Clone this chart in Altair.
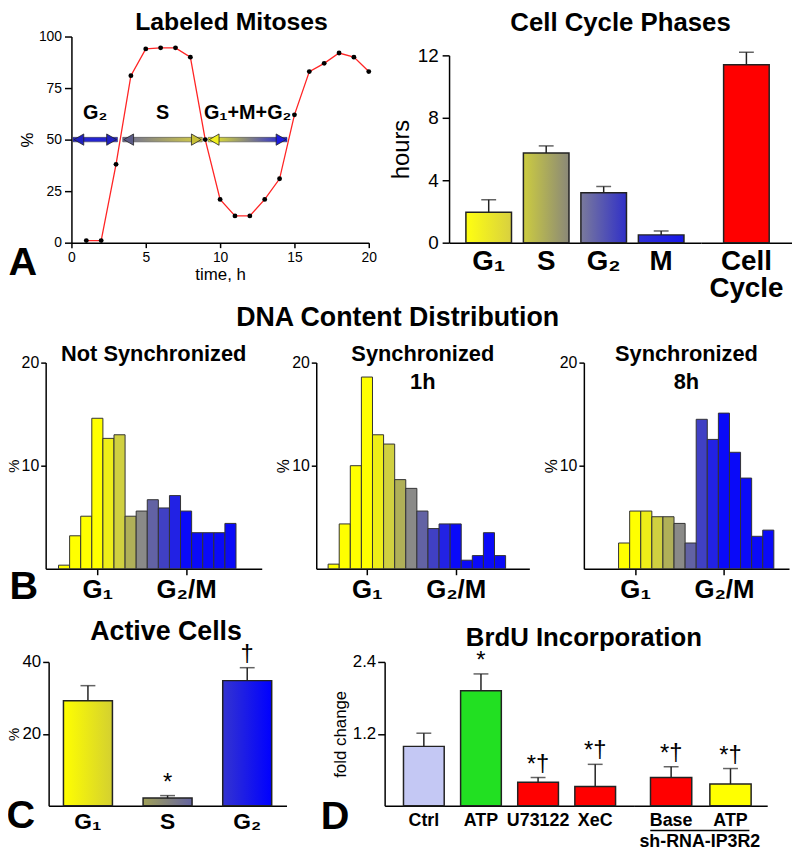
import altair as alt
import pandas as pd

FONT = "Liberation Sans"

# ---------------- data ----------------
# A: labeled mitoses
lm_time = list(range(1, 21))
lm_pct = [1, 1, 38, 81, 94, 94.5, 94.5, 90, 50, 21, 13, 13, 21, 31, 62, 83, 87, 92, 90, 83]

arrow_label = ["G₂", "S", "G₁+M+G₂"]
arrow_from = [0.1, 3.45, 9.2]
arrow_to = [3.1, 8.8, 14.5]
arrow_level = [50, 50, 50]
arrow_label_level = [60, 60, 60]

# A: cell cycle phases
phase_names = ["G₁", "S", "G₂", "M"]
phase_hours = [1.95, 5.75, 3.2, 0.5]
phase_err = [2.75, 6.2, 3.6, 0.75]
cycle_name = ["Cell Cycle"]
cycle_hours = [11.4]
cycle_err = [12.2]

# B: DNA content histograms
dna_bins = list(range(16))
dna_not_sync = [0.35, 3.2, 5.1, 14.6, 12.65, 13.0, 5.1, 5.6, 6.7, 5.9, 7.1, 5.6, 3.5, 3.5, 3.5, 4.4]
dna_sync_1h = [0.45, 4.35, 10.0, 18.6, 13.0, 12.1, 8.65, 7.8, 5.6, 3.9, 4.35, 4.35, 0.83, 1.28, 3.5, 1.28]
dna_bins_8h = list(range(2, 16))
dna_sync_8h = [2.5, 5.6, 5.6, 5.05, 5.05, 4.4, 2.5, 14.5, 12.55, 15.1, 11.3, 8.8, 3.15, 3.75]
dna_tick_bins = [3.5, 11.5]
dna_tick_labels = ["G₁", "G₂/M"]

# C: active cells
active_phase = ["G₁", "S", "G₂"]
active_pct = [29.2, 2.1, 34.8]
active_err = [33.4, 2.8, 38.4]
active_mark = ["", "*", "†"]

# D: BrdU incorporation
brdu_cond = ["Ctrl", "ATP", "U73122", "XeC"]
brdu_fold = [0.99, 1.92, 0.39, 0.32]
brdu_err = [1.21, 2.2, 0.47, 0.69]
brdu_mark = ["", "*", "*†", "*†"]
shrna_cond = ["Base", "ATP"]
shrna_fold = [0.47, 0.36]
shrna_err = [0.65, 0.62]
shrna_mark = ["*†", "*†"]
shrna_group = ["sh-RNA-IP3R2"]

# ---------------- styles ----------------
hist_colors = ["#ffff00"] * 4 + ["#eeee18", "#d0d040", "#b0b058", "#8a8a88",
                                 "#6262a4", "#4040c4", "#2222e4"] + ["#0a0af8"] * 5
arrow_colors = [  # left head, shaft start, shaft end, right head
    ("#2020c0", "#2424d0", "#2424d0", "#2020c0"),
    ("#5c5c88", "#6c6c98", "#d8d040", "#c8c038"),
    ("#f0f020", "#f0f020", "#1c1ce0", "#1c1ce0"),
]
phase_grads = [("#ffff10", "#d8d040"), ("#cccc40", "#8a8878"),
               ("#7a7a9c", "#3030c8"), ("#3030d8", "#1818e8")]
active_grads = [("#ffff00", "#d4d030"), ("#a0a058", "#6464a0"), ("#3434d0", "#0000ff")]
brdu_colors = ["#c4c8f4", "#22e022", "#ff0000", "#ff0000"]
shrna_colors = ["#ff0000", "#ffff00"]
EDGE = "#222222"


def grad(c1, c2):
    return alt.Gradient(gradient="linear",
                        stops=[alt.GradientStop(color=c1, offset=0),
                               alt.GradientStop(color=c2, offset=1)],
                        x1=0, x2=1, y1=0, y2=0)


def letter(ch, x, y):
    return alt.Chart(pd.DataFrame({"t": [ch]})).mark_text(
        font=FONT, fontSize=40, fontWeight="bold", align="center",
        baseline="alphabetic", color="black").encode(
        text="t:N", x=alt.value(x), y=alt.value(y))


# ================= Row A, left: Labeled Mitoses =================
df_lm = pd.DataFrame({"time": lm_time, "pct": lm_pct})
df_arr = pd.DataFrame({"label": arrow_label, "x0": arrow_from, "x1": arrow_to,
                       "y": arrow_level, "ly": arrow_label_level})
xA = alt.Scale(domain=[0, 20], range=[26, 326], nice=False, zero=False)
yA = alt.Scale(domain=[0, 100], nice=False)
xA_enc = alt.X("time:Q", scale=xA, axis=alt.Axis(
    values=[0, 5, 10, 15, 20], title="time, h", labelFontSize=14, titleFontSize=17,
    titleFontWeight="normal", tickSize=5, labelPadding=3, labelFlush=False, titlePadding=2))
yA_enc = alt.Y("pct:Q", scale=yA, axis=alt.Axis(
    values=[0, 25, 50, 75, 100], title="%", offset=-26, labelFontSize=14, titleFontSize=17,
    titleFontWeight="normal", tickSize=7, labelPadding=3, titlePadding=2))

lineA = alt.Chart(df_lm).mark_line(color="#ff2424", strokeWidth=1.3).encode(x=xA_enc, y=yA_enc)
ptsA = alt.Chart(df_lm).mark_circle(color="black", size=24, opacity=1).encode(x="time:Q", y="pct:Q")

arrow_layers = []
for i in range(len(arrow_label)):
    cl, cs0, cs1, cr = arrow_colors[i]
    base = alt.Chart(df_arr).transform_filter(alt.datum.label == arrow_label[i])
    shaft = base.transform_calculate(ylo="datum.y - 1.1", yhi="datum.y + 1.1").mark_rect(
        color=grad(cs0, cs1), stroke="#333333", strokeWidth=0.5).encode(
        x=alt.X("x0:Q", scale=xA), x2="x1:Q", y=alt.Y("ylo:Q", scale=yA), y2="yhi:Q")
    hl = base.mark_point(shape="triangle-left", filled=True, color=cl, stroke="#222222",
                         strokeWidth=0.8, size=130, opacity=1, xOffset=6).encode(
        x=alt.X("x0:Q", scale=xA), y=alt.Y("y:Q", scale=yA))
    hr = base.mark_point(shape="triangle-right", filled=True, color=cr, stroke="#222222",
                         strokeWidth=0.8, size=130, opacity=1, xOffset=-6).encode(
        x=alt.X("x1:Q", scale=xA), y=alt.Y("y:Q", scale=yA))
    arrow_layers += [shaft, hl, hr]

arrow_text = alt.Chart(df_arr).transform_calculate(xm="(datum.x0 + datum.x1) / 2").mark_text(
    font=FONT, fontSize=20, fontWeight="bold", baseline="alphabetic", color="black").encode(
    x=alt.X("xm:Q", scale=xA), y=alt.Y("ly:Q", scale=yA), text="label:N")

pA1 = alt.layer(lineA, *arrow_layers, ptsA, arrow_text, letter("A", -23, 241)).properties(
    width=407, height=208,
    title=alt.TitleParams("Labeled Mitoses", fontSize=25, frame="group", dx=-16, offset=-5))

# ================= Row A, right: Cell Cycle Phases =================
df_ph = pd.DataFrame({"phase": phase_names, "hours": phase_hours, "err": phase_err})
df_cc = pd.DataFrame({"phase": cycle_name, "hours": cycle_hours, "err": cycle_err})
yB = alt.Scale(domain=[0, 12], range=[208, 19], nice=False)
xB_axis = dict(title=None, ticks=False, labelFontSize=28, labelFontWeight="bold",
               labelPadding=5, labelAngle=0, labelColor="black")
xB = alt.X("phase:N", scale=alt.Scale(domain=phase_names, paddingInner=0.207, paddingOuter=0.293),
           axis=alt.Axis(**xB_axis), sort=phase_names)
yB_enc = alt.Y("hours:Q", scale=yB, axis=alt.Axis(
    values=[0, 4, 8, 12], title="hours", labelFontSize=19, titleFontSize=24,
    titleFontWeight="normal", tickSize=7, labelPadding=4, titlePadding=4))

ph_layers = []
for i, nm in enumerate(phase_names):
    c0, c1 = phase_grads[i]
    ph_layers.append(alt.Chart(df_ph).transform_filter(alt.datum.phase == nm).mark_bar(
        color=grad(c0, c1), stroke=EDGE, strokeWidth=1.5, opacity=1).encode(x=xB, y=yB_enc))
ph_err = alt.Chart(df_ph).mark_rule(color=EDGE, strokeWidth=1.5).encode(
    x=alt.X("phase:N"), y="hours:Q", y2="err:Q")
ph_cap = alt.Chart(df_ph).mark_tick(color=EDGE, thickness=1.5, size=15).encode(
    x=alt.X("phase:N"), y="err:Q")
pA2 = alt.layer(*ph_layers, ph_err, ph_cap).properties(
    width=254, height=208,
    title=alt.TitleParams("Cell Cycle Phases", fontSize=26, frame="group", dx=46, offset=1))

xC_cc = alt.X("phase:N", scale=alt.Scale(domain=cycle_name, paddingInner=0, paddingOuter=0.5),
              axis=alt.Axis(labelExpr="split(datum.label, ' ')", labelLineHeight=27, **xB_axis))
cc_bar = alt.Chart(df_cc).mark_bar(color="#ff0000", stroke=EDGE, strokeWidth=1.5, opacity=1).encode(
    x=xC_cc, y=alt.Y("hours:Q", scale=yB, axis=None))
cc_err = alt.Chart(df_cc).mark_rule(color=EDGE, strokeWidth=1.5).encode(
    x="phase:N", y="hours:Q", y2="err:Q")
cc_cap = alt.Chart(df_cc).mark_tick(color=EDGE, thickness=1.5, size=15).encode(
    x="phase:N", y="err:Q")
pA3 = alt.layer(cc_bar, cc_err, cc_cap).properties(width=92, height=208)

rowA = alt.hconcat(pA1, pA2, pA3, spacing=0, bounds="flush")

# ================= Row B: DNA content =================
tick_expr = " : ".join(
    [f"datum.value == {v} ? '{l}'" for v, l in zip(dna_tick_bins[:-1], dna_tick_labels[:-1])]
    + [f"'{dna_tick_labels[-1]}'"])


def hist(bins, vals, title, xdom, width, toff, extra=(), pct_size=16):
    df = pd.DataFrame({"bin": bins, "pct": vals})
    bars = alt.Chart(df).transform_calculate(bin_end="datum.bin + 1").mark_rect(
        stroke="#333333", strokeWidth=1, opacity=1).encode(
        x=alt.X("bin:Q", scale=alt.Scale(domain=xdom, nice=False, zero=False),
                axis=alt.Axis(values=dna_tick_bins, labelExpr=tick_expr, title=None,
                              labelFontSize=26, labelFontWeight="bold", tickSize=6,
                              labelPadding=2, labelFlush=False, labelOverlap=False)),
        x2="bin_end:Q",
        y=alt.Y("pct:Q", scale=alt.Scale(domain=[0, 20], nice=False),
                axis=alt.Axis(values=[10, 20], title="%", labelFontSize=16, titleFontSize=pct_size,
                              titleFontWeight="normal", tickSize=5, labelPadding=2, titlePadding=0)),
        y2=alt.datum(0),
        color=alt.Color("bin:O", scale=alt.Scale(domain=dna_bins, range=hist_colors), legend=None))
    return alt.layer(bars, *extra).properties(
        width=width, height=208,
        title=alt.TitleParams(title, fontSize=22, frame="group", offset=toff, lineHeight=29))


# invisible blank text that only extends the row's lower layout bound
b_pad = alt.Chart(pd.DataFrame({"t": [" "]})).mark_text(fontSize=10, baseline="top").encode(
    text="t:N", x=alt.value(0), y=alt.value(245))

pB1 = hist(dna_bins, dna_not_sync, "Not Synchronized", [-1.16, 18.32], 218, -11,
           extra=(letter("B", -22, 238), b_pad), pct_size=15)
pB2 = hist(dna_bins, dna_sync_1h, ["Synchronized", "1h"], [-1.07, 18.14], 215, -40)
pB3 = hist(dna_bins_8h, dna_sync_8h, ["Synchronized", "8h"], [-1.13, 17.37], 207, -40)

rowB = alt.hconcat(pB1, pB2, pB3, spacing=55, bounds="flush").properties(
    title=alt.TitleParams("DNA Content Distribution", fontSize=27, offset=11))

# ================= Row C: Active cells =================
df_act = pd.DataFrame({"phase": active_phase, "pct": active_pct, "err": active_err, "mark": active_mark})
xAct = alt.X("phase:N", scale=alt.Scale(domain=active_phase, range=[3, 243],
                                          paddingInner=0.385, paddingOuter=0.186),
             sort=active_phase,
             axis=alt.Axis(title=None, ticks=False, labelFontSize=23, labelFontWeight="bold",
                           labelPadding=5, labelAngle=0))
yAct = alt.Y("pct:Q", scale=alt.Scale(domain=[0, 40], nice=False),
             axis=alt.Axis(values=[20, 40], title="%", offset=-3, labelFontSize=17, titleFontSize=15,
                           titleFontWeight="normal", tickSize=6, labelPadding=2, titlePadding=0))
act_layers = []
for i, nm in enumerate(active_phase):
    c0, c1 = active_grads[i]
    act_layers.append(alt.Chart(df_act).transform_filter(alt.datum.phase == nm).mark_bar(
        color=grad(c0, c1), stroke=EDGE, strokeWidth=1.5, opacity=1).encode(x=xAct, y=yAct))
act_err = alt.Chart(df_act).mark_rule(color=EDGE, strokeWidth=1.5).encode(
    x="phase:N", y="pct:Q", y2="err:Q")
act_cap = alt.Chart(df_act).mark_tick(color=EDGE, thickness=1.5, size=15).encode(x="phase:N", y="err:Q")
act_txt = alt.Chart(df_act).mark_text(font=FONT, fontSize=24, baseline="bottom", dy=-1, color="black").encode(
    x="phase:N", y="err:Q", text="mark:N")
pC = alt.layer(*act_layers, act_err, act_cap, act_txt, letter("C", -25, 168)).properties(
    width=342, height=145,
    title=alt.TitleParams("Active Cells", fontSize=27, frame="group", anchor="start", dx=45, offset=-3))

# ================= Row C: BrdU =================
yD = alt.Scale(domain=[0, 2.4], nice=False)
xD_axis = dict(title=None, ticks=False, labelFontSize=18, labelFontWeight="bold", labelFont=FONT,
               labelPadding=6, labelAngle=0)
df_d1 = pd.DataFrame({"cond": brdu_cond, "fold": brdu_fold, "err": brdu_err, "mark": brdu_mark})
xD1 = alt.X("cond:N", scale=alt.Scale(domain=brdu_cond, paddingInner=0.287, paddingOuter=0.33),
            sort=brdu_cond, axis=alt.Axis(**xD_axis))
yD1 = alt.Y("fold:Q", scale=yD, axis=alt.Axis(
    values=[1.2, 2.4], format=".1f", title="fold change", labelFontSize=17, titleFontSize=17,
    titleFontWeight="normal", tickSize=7, labelPadding=2, titlePadding=3))
d1_bars = alt.Chart(df_d1).mark_bar(stroke=EDGE, strokeWidth=1.5, opacity=1).encode(
    x=xD1, y=yD1,
    color=alt.Color("cond:N", scale=alt.Scale(domain=brdu_cond, range=brdu_colors), legend=None))
d1_err = alt.Chart(df_d1).mark_rule(color=EDGE, strokeWidth=1.5).encode(x="cond:N", y="fold:Q", y2="err:Q")
d1_cap = alt.Chart(df_d1).mark_tick(color=EDGE, thickness=1.5, size=15).encode(x="cond:N", y="err:Q")
d1_txt = alt.Chart(df_d1).mark_text(font=FONT, fontSize=24, baseline="bottom", dy=-1, color="black").encode(
    x="cond:N", y="err:Q", text="mark:N")
pD1 = alt.layer(d1_bars, d1_err, d1_cap, d1_txt, letter("D", -50, 169)).properties(
    width=252, height=145,
    title=alt.TitleParams("BrdU Incorporation", fontSize=26, frame="group", dx=75, offset=-2))

df_d2 = pd.DataFrame({"cond": shrna_cond, "fold": shrna_fold, "err": shrna_err, "mark": shrna_mark})
xD2 = alt.X("cond:N", scale=alt.Scale(domain=shrna_cond, paddingInner=0.305, paddingOuter=0.271),
            sort=shrna_cond, axis=alt.Axis(**xD_axis))
d2_bars = alt.Chart(df_d2).mark_bar(stroke=EDGE, strokeWidth=1.5, opacity=1).encode(
    x=xD2, y=alt.Y("fold:Q", scale=yD, axis=None),
    color=alt.Color("cond:N", scale=alt.Scale(domain=shrna_cond, range=shrna_colors), legend=None))
d2_err = alt.Chart(df_d2).mark_rule(color=EDGE, strokeWidth=1.5).encode(x="cond:N", y="fold:Q", y2="err:Q")
d2_cap = alt.Chart(df_d2).mark_tick(color=EDGE, thickness=1.5, size=15).encode(x="cond:N", y="err:Q")
d2_txt = alt.Chart(df_d2).mark_text(font=FONT, fontSize=24, baseline="bottom", dy=-1, color="black").encode(
    x="cond:N", y="err:Q", text="mark:N")
df_grp = pd.DataFrame({"g": shrna_group})
d2_line = alt.Chart(df_grp).mark_rule(color="black", strokeWidth=1.5).encode(
    x=alt.value(16), x2=alt.value(116), y=alt.value(170))
d2_gtxt = alt.Chart(df_grp).mark_text(font=FONT, fontSize=18, fontWeight="bold", baseline="alphabetic",
                                      color="black").encode(
    x=alt.value(66), y=alt.value(187), text="g:N")
pD2 = alt.layer(d2_bars, d2_err, d2_cap, d2_txt, d2_line, d2_gtxt).properties(width=134, height=145)

rowC = alt.hconcat(pC, pD1, pD2, spacing=0, bounds="flush").resolve_scale(color="independent")

chart = alt.vconcat(rowA, rowB, rowC, spacing=2).resolve_scale(color="independent").properties(
    padding={"left": -2, "top": -2, "right": 0, "bottom": 0}
).configure_view(stroke=None).configure_axis(
    labelFont=FONT, titleFont=FONT, labelColor="black", titleColor="black",
    domainColor="black", tickColor="black", domainWidth=1.5, tickWidth=1.5, grid=False
).configure_title(font=FONT, fontWeight="bold", color="black", anchor="middle")

chart.save("out.html", embed_options={"renderer": "svg", "actions": False})
